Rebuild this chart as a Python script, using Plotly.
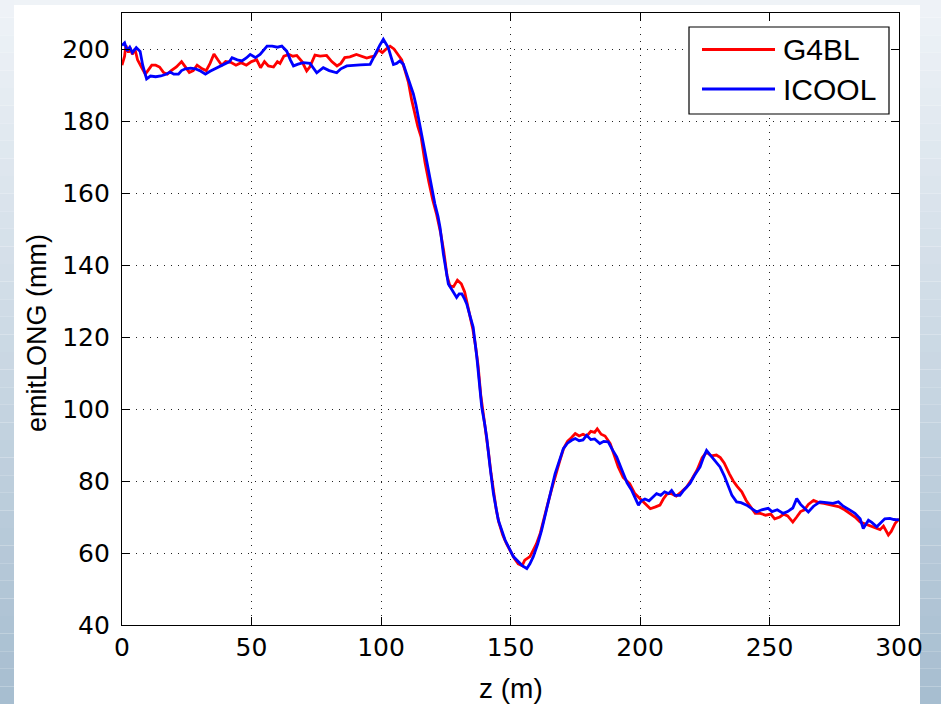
import plotly.graph_objects as go

# ---- data: longitudinal emittance along the channel ----
series_names = ["G4BL", "ICOOL"]

g4bl_z = [0, 1, 1.5, 2.5, 3, 4, 5, 6, 7.5, 9, 10, 11.5, 13, 14.5, 16, 17.5, 19, 21, 23, 24.5,
          26, 27.5, 29, 31, 32.5, 34, 35.5, 37, 38.5, 40, 42, 44, 46, 48, 50, 52, 53.5, 55, 56.5, 58.5,
          60, 61, 62.5, 64.5, 66, 67.5, 69.5, 71.3, 72.5, 74.5, 76.5, 79, 81, 83, 84.5, 86, 88, 90.5, 92.5, 94.5,
          96, 97.5, 99, 100.5, 102, 103.5, 105, 106.5, 108, 109.3, 110.6, 111.8, 113, 114.2, 115.5, 117, 118.5, 120, 121.5, 123,
          124.2, 125.5, 126.6, 128, 129.5, 131, 132.3, 133.5, 134.5, 135.5, 136.5, 137.5, 138.5, 139.5, 140.5, 141.5, 142.5, 143.5, 144.5, 145.5,
          147, 148.5, 150, 151.5, 153, 154.5, 155.5, 156.5, 157.5, 158.8, 160, 161.5, 163, 164.5, 166, 167.5, 169, 170.5, 172, 173.5,
          175, 176.5, 178, 179.5, 181, 182.5, 183.5, 185, 186.5, 188.5, 190, 191.6, 193.5, 196, 198, 200, 202, 204, 206, 207.7,
          209, 210.5, 212, 214, 216, 218, 220, 222, 224, 225.7, 227.5, 229.5, 231, 232.5, 234.5, 236, 237.5, 239.3, 241, 242.5,
          244.5, 246.5, 248.5, 250.5, 252, 254, 255.5, 257, 259, 260.5, 262, 263.5, 265, 267, 269, 271, 273, 275, 277, 279,
          281, 283, 285, 287, 289, 291, 292.7, 294, 295.9, 297, 298.5, 300]
g4bl_emit = [195.5, 198, 201, 199, 200.5, 198.5, 200, 197, 195, 193, 194, 195.5, 195.5, 195, 193.5, 193, 194, 195, 196.5, 195,
             193.5, 194, 195.5, 194.5, 194, 196, 198.6, 197, 195.5, 196.5, 196.3, 195.5, 196.2, 195.5, 196.5, 197, 194.8, 196.5, 195.3, 195,
             196.5, 196, 198, 198.5, 198, 198.2, 196.5, 193.9, 195, 198.3, 198, 198.2, 196.5, 195.3, 196, 197.6, 197.8, 198.5, 198, 197.5,
             197.8, 198, 199.8, 199, 200, 200.8, 200, 198.5, 197, 193.9, 190.7, 186, 182, 178.5, 175.5, 168.5, 163, 158, 154, 149,
             144, 137, 134.2, 134, 135.8, 134.8, 132.5, 128.5, 125.5, 122, 117.5, 112, 104, 99, 93.5, 88, 82, 77, 72, 68.5,
             65, 62.5, 60.5, 58.5, 57, 56.5, 58, 58.5, 59, 60.8, 62.5, 65.5, 70, 74, 78, 82, 85.5, 89, 91, 92,
             93.2, 92.5, 93, 92.5, 93.8, 93.5, 94.5, 93, 92.5, 90.4, 87, 83.9, 81, 79.3, 76.5, 75, 73.5, 72.3, 72.8, 73.3,
             75, 76.5, 76.5, 75.8, 77, 78.3, 80.5, 83, 86.5, 88, 87, 87.2, 86.5, 85, 82, 80, 78.5, 77, 74.6, 73,
             71, 71, 70.5, 70.8, 69.5, 70, 70.8, 70.3, 68.6, 70, 71.5, 72, 73.5, 74.6, 74, 73.8, 73.5, 73, 72.8, 72,
             71, 70, 68.6, 68, 67.5, 67, 66.5, 67.5, 65, 66, 68.2, 69.5]

icool_z = [0, 1, 2, 3, 4, 5.5, 7, 8, 9.5, 11, 13, 15, 17, 18.6, 20, 21.8, 23, 24.5, 26.5, 28.3,
           30, 32.2, 34, 36, 38, 40, 41.5, 42.5, 44.5, 46.3, 48, 49.5, 51.5, 53.3, 55, 56, 58, 60, 61.7, 63.6,
           65, 66.2, 68, 70, 72.6, 74, 75.2, 77.7, 80, 82.9, 84.5, 86.8, 89, 92, 95.8, 97.7, 99.5, 100.9, 102, 102.8,
           104, 104.8, 106, 107.3, 108.6, 110, 111.2, 112.5, 113.5, 114.4, 115.7, 117.6, 119.6, 120.8, 122, 122.8, 124.1, 125, 126, 127.5,
           129.2, 130.2, 131.2, 132.3, 133.1, 134.5, 135.6, 137, 138, 138.9, 140, 140.8, 142.1, 143.4, 145.3, 147.9, 151.1, 153, 154.5, 156.3,
           157.5, 158.8, 160.5, 162, 164.6, 167.2, 170.4, 172, 173.6, 175, 176.5, 178, 179.4, 181, 182.5, 184.5, 186, 187.7, 189.5, 191,
           193.6, 195, 196.8, 198, 199.4, 200.5, 201.9, 203.5, 205, 206.4, 208, 209.5, 211, 212.2, 213.5, 215.4, 217, 219.3, 221, 223.2,
           224.5, 225.7, 227, 228.3, 229.5, 230.9, 232.5, 234.1, 235.5, 237.3, 239, 241.2, 243, 245, 247, 249.5, 251, 253, 255.3, 257,
           259, 260.5, 262, 263.5, 265, 267, 269.5, 272, 274.5, 276.6, 278.5, 281.1, 283, 285, 286.2, 288.2, 289.5, 291.4, 293, 294.5,
           296.5, 298, 300]
icool_emit = [201, 201.7, 199.5, 200.5, 199, 200.4, 199.3, 195.5, 191.7, 192.5, 192.3, 192.5, 193, 193.6, 193, 193, 194, 194.5, 194.7, 194.5,
              194, 193, 193.8, 194.5, 195.3, 196, 196.5, 197.6, 197, 196.7, 197.5, 198.5, 197.6, 198.5, 200, 200.8, 200.8, 200.5, 200.8, 199.4,
              197, 195.3, 195.8, 196.2, 196, 194.5, 193.4, 194.8, 194, 193.4, 194.5, 195.3, 195.5, 195.6, 195.7, 198.5, 201, 202.7, 201.5, 200.4,
              197.5, 195.7, 196, 196.7, 195.8, 193, 190.5, 187.5, 184.5, 181, 176, 168.5, 161, 157, 153.5, 150.4, 143, 139, 134.7, 133,
              131, 132, 132, 130.5, 129.2, 125.5, 122.7, 114.4, 107, 100.5, 96, 92.2, 83.9, 76.5, 69.1, 63.6, 59, 57.5, 56.5, 55.7,
              57, 59, 62.5, 66.3, 74.6, 82, 89, 90.5, 91.3, 91.8, 91.2, 91.4, 92.7, 91.5, 91.7, 90.4, 91, 90.9, 88.5, 86.7,
              82, 79.5, 77.4, 75.5, 73.3, 74.5, 75, 74.5, 75.5, 76.5, 76, 77, 76.5, 77.4, 76, 76, 77.5, 79.3, 81.5, 83.9,
              86.5, 88.5, 87.3, 86.2, 85, 83.9, 81.5, 78.3, 76, 74.2, 74, 73.3, 72.5, 71.4, 72, 72.4, 71.5, 72, 71, 71.5,
              72.5, 75.1, 73.5, 72.5, 71.4, 73, 74.2, 74, 73.8, 74.2, 73, 71.9, 71, 69.5, 66.8, 69.1, 68.5, 67.3, 68.5, 69.5,
              69.6, 69.3, 69.2]

x_ticks = [0, 50, 100, 150, 200, 250, 300]
y_ticks = [40, 60, 80, 100, 120, 140, 160, 180, 200]
x_title = "z (m)"
y_title = "emitLONG (mm)"

colors = ["#ff0000", "#0000ff"]

# ---- page geometry (pixels) ----
W, H = 941, 704
PL, PR, PT, PB = 122, 899, 13, 625          # plot-area box


def px_x(p):
    return (p - PL) / (PR - PL)


def px_y(p):
    return (PB - p) / (PB - PT)


fig = go.Figure()
for name, zs, vs, col in [(series_names[0], g4bl_z, g4bl_emit, colors[0]),
                          (series_names[1], icool_z, icool_emit, colors[1])]:
    fig.add_trace(go.Scatter(x=zs, y=vs, mode="lines", name=name, showlegend=False,
                             line=dict(color=col, width=2.8)))

shapes = []

# slide-style gradient strips around the white panel
def lerp(c0, c1, t):
    return "rgb(%d,%d,%d)" % tuple(round(a + (b - a) * t) for a, b in zip(c0, c1))

top_c, bot_c = (239, 243, 247), (166, 189, 208)
n = 40
for i in range(n):
    y0 = H * i / n
    y1 = H * (i + 1) / n
    col = lerp(top_c, bot_c, (i + 0.5) / n)
    for xa, xb in [(0, 14), (920, W)]:
        shapes.append(dict(type="rect", xref="paper", yref="paper",
                           x0=px_x(xa), x1=px_x(xb), y0=px_y(y1), y1=px_y(y0),
                           fillcolor=col, line=dict(width=0), layer="below"))
shapes.append(dict(type="rect", xref="paper", yref="paper",
                   x0=px_x(14), x1=px_x(920), y0=px_y(5), y1=px_y(0),
                   fillcolor="rgb(239,243,247)", line=dict(width=0), layer="below"))

# legend box with line samples
LX0, LX1, LY0, LY1 = 689, 889, 27, 114
shapes.append(dict(type="rect", xref="paper", yref="paper",
                   x0=px_x(LX0), x1=px_x(LX1), y0=px_y(LY1), y1=px_y(LY0),
                   fillcolor="white", line=dict(color="black", width=1.2), layer="above"))
rows = [49.5, 89]
annotations = []
for name, col, ry in zip(series_names, colors, rows):
    shapes.append(dict(type="line", xref="paper", yref="paper",
                       x0=px_x(702), x1=px_x(775), y0=px_y(ry), y1=px_y(ry),
                       line=dict(color=col, width=2.8), layer="above"))
    annotations.append(dict(text=name, xref="paper", yref="paper", x=px_x(781), y=px_y(ry),
                            xanchor="left", yanchor="middle", showarrow=False,
                            font=dict(family="Liberation Sans, Arial, sans-serif", size=30, color="black")))

# axis titles
annotations.append(dict(text=x_title, xref="paper", yref="paper", x=px_x(511), y=px_y(688),
                        xanchor="center", yanchor="middle", showarrow=False,
                        font=dict(family="Liberation Sans, Arial, sans-serif", size=28, color="black")))
annotations.append(dict(text=y_title, xref="paper", yref="paper", x=px_x(37), y=px_y(333),
                        xanchor="center", yanchor="middle", showarrow=False, textangle=-90,
                        font=dict(family="Liberation Sans, Arial, sans-serif", size=27, color="black")))

tick_font = dict(family="DejaVu Sans, Liberation Sans, sans-serif", size=25, color="black")
axis_common = dict(showline=True, linecolor="black", linewidth=1.2, mirror="ticks",
                   ticks="inside", ticklen=8, tickwidth=1.2, tickcolor="black",
                   showgrid=True, gridcolor="#222", gridwidth=1, griddash="1px,6px",
                   zeroline=False, tickfont=tick_font)

fig.update_layout(
    width=W, height=H,
    margin=dict(l=PL, r=W - PR, t=PT, b=H - PB, pad=0),
    paper_bgcolor="white", plot_bgcolor="white",
    xaxis=dict(range=[0, 300], tickvals=x_ticks, ticklabelstandoff=0, **axis_common),
    yaxis=dict(range=[40, 210], tickvals=y_ticks, ticklabelstandoff=6, **axis_common),
    shapes=shapes, annotations=annotations, showlegend=False,
)

fig.write_html("out.html")
